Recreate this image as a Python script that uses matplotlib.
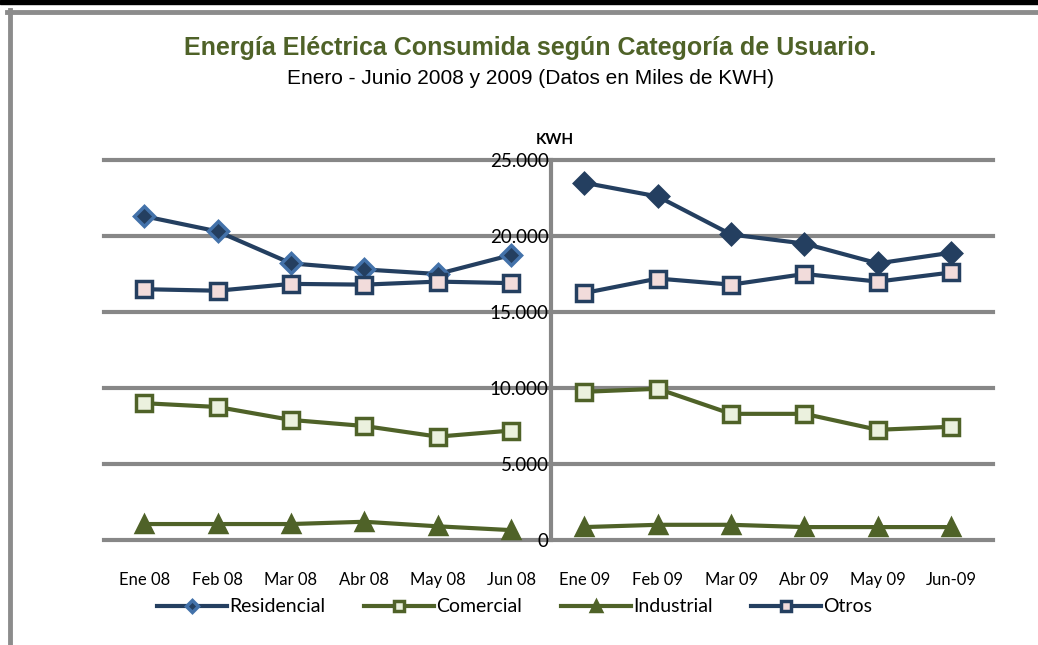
import matplotlib.pyplot as plt
from matplotlib.lines import Line2D
from matplotlib.patches import Rectangle
from matplotlib.ticker import FuncFormatter

# Datos (miles de KWH)
meses = ['Ene 08', 'Feb 08', 'Mar 08', 'Abr 08', 'May 08', 'Jun 08',
         'Ene 09', 'Feb 09', 'Mar 09', 'Abr 09', 'May 09', 'Jun-09']
residencial_08 = [21300, 20300, 18200, 17800, 17500, 18750]
residencial_09 = [23500, 22600, 20100, 19500, 18200, 18900]
comercial_08 = [9000, 8750, 7900, 7500, 6800, 7200]
comercial_09 = [9750, 9950, 8300, 8300, 7250, 7450]
industrial_08 = [1050, 1050, 1050, 1200, 900, 650]
industrial_09 = [850, 1000, 1000, 850, 850, 850]
otros_08 = [16500, 16400, 16850, 16800, 17000, 16900]
otros_09 = [16250, 17200, 16800, 17500, 17000, 17600]

AZUL = '#243F60'
AZUL_CLARO = '#4372AA'
VERDE = '#4F6228'
GRIS = '#878787'
fuente = 'Lato'

fig = plt.figure(figsize=(10.38, 6.45), dpi=100)
ax = fig.add_axes([104/1038, 1-540/645, (993-104)/1038, 380/645])

x08 = list(range(6))
x09 = list(range(6, 12))

def serie(x, y, color, marker, ms, face, edge, label=None):
    return ax.plot(x, y, color=color, lw=3, marker=marker, ms=ms, mfc=face,
                   mec=edge, mew=2.5, clip_on=False, zorder=3, label=label)[0]

h_res = serie(x08, residencial_08, AZUL, 'D', 10, AZUL, AZUL_CLARO, 'Residencial')
serie(x09, residencial_09, AZUL, 'D', 10, AZUL, AZUL)
h_com = serie(x08, comercial_08, VERDE, 's', 11, '#EBF1DE', VERDE, 'Comercial')
serie(x09, comercial_09, VERDE, 's', 11, '#EBF1DE', VERDE)
h_ind = serie(x08, industrial_08, VERDE, '^', 12, VERDE, VERDE, 'Industrial')
serie(x09, industrial_09, VERDE, '^', 12, VERDE, VERDE)
h_otr = serie(x08, otros_08, AZUL, 's', 11, '#F2DCDB', AZUL, 'Otros')
serie(x09, otros_09, AZUL, 's', 11, '#F2DCDB', AZUL)

ax.set_xlim(-0.55, 11.57)
ax.set_ylim(0, 25000)
ax.set_yticks(range(0, 25001, 5000))
ax.yaxis.set_major_formatter(FuncFormatter(lambda v, p: f'{int(v):,}'.replace(',', '.')))
for v in range(0, 25001, 5000):
    ax.axhline(v, color=GRIS, lw=3, zorder=1, clip_on=False)

for s in ['top', 'right', 'bottom']:
    ax.spines[s].set_visible(False)
ax.spines['left'].set_position(('data', 5.55))
ax.spines['left'].set_color(GRIS)
ax.spines['left'].set_linewidth(3)
ax.spines['left'].set_zorder(2)

ax.set_xticks(range(12))
ax.set_xticklabels(meses, fontsize=12, family=fuente)
ax.tick_params(axis='x', length=0, pad=23)
ax.tick_params(axis='y', length=0, pad=2, labelsize=13.5)
for t in ax.get_yticklabels():
    t.set_family(fuente)

ax.text(5.6, 26300, 'KWH', ha='center', va='center', fontsize=11,
        fontweight='bold', family=fuente)

fig.text(0.511, 1-48/645, 'Energía Eléctrica Consumida según Categoría de Usuario.',
         ha='center', va='center', fontsize=18, fontweight='bold', color=VERDE,
         family='Liberation Sans')
fig.text(0.511, 1-78/645, 'Enero - Junio 2008 y 2009 (Datos en Miles de KWH)',
         ha='center', va='center', fontsize=15, family='Liberation Sans')

leg = fig.legend(handles=[h_res, h_com, h_ind, h_otr], loc='center',
                 bbox_to_anchor=(0.496, 1-607/645), ncol=4, frameon=False,
                 handlelength=3.6, handletextpad=0.1, columnspacing=2.0,
                 prop={'family': fuente, 'size': 14}, markerscale=0.65)

# Marco
fig.add_artist(Rectangle((0, 1-4/645), 1, 4/645, transform=fig.transFigure,
                         color='black'))
fig.add_artist(Line2D([7/1038, 1], [1-12/645, 1-12/645], transform=fig.transFigure,
                      color='#8C8C8C', lw=3.5))
fig.add_artist(Line2D([9.5/1038, 9.5/1038], [0, 1-10/645], transform=fig.transFigure,
                      color='#8C8C8C', lw=3.5))

fig.savefig('out.png', dpi=100)
